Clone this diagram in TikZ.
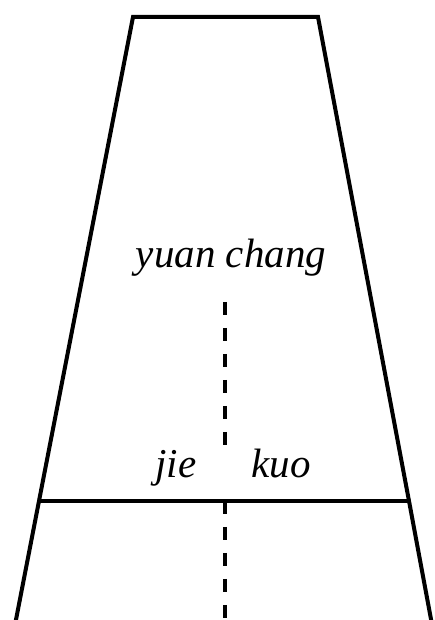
\documentclass[tikz,border=0pt]{standalone}
\usepackage{fontspec}
\setmainfont{Liberation Serif}
\begin{document}
\begin{tikzpicture}[x=1pt,y=1pt,
  edge/.style={line width=4pt, line join=miter},
  dashline/.style={line width=4pt, dash pattern=on 13pt off 13pt},
  lbl/.style={font=\fontsize{41}{41}\selectfont\itshape, inner sep=0pt, anchor=base}]
\useasboundingbox (0,0) rectangle (435,620);
\begin{scope}
\clip (0,0) rectangle (435,620);
\coordinate (tl) at (133,603);
\coordinate (tr) at (318,603);
\coordinate (ml) at (39,119);
\coordinate (mr) at (409,119);
\coordinate (bl) at (14,-10);
\coordinate (br) at (433,-10);
\draw[edge] (bl) -- (ml) -- (tl) -- (tr) -- (mr) -- (br);
\draw[edge] (ml) -- (mr);
\node[lbl] (yc) at (231,352) {yuan chang};
\node[lbl] (jie) at (176,142) {jie};
\node[lbl] (kuo) at (281,142) {kuo};
\coordinate (d1) at (225,318);
\coordinate (d2) at (225,170);
\coordinate (d3) at (225,119);
\coordinate (d4) at (225,0);
\draw[dashline] (d1) -- (d2);
\draw[dashline] (d3) -- (d4);
\end{scope}
\end{tikzpicture}
\end{document}
